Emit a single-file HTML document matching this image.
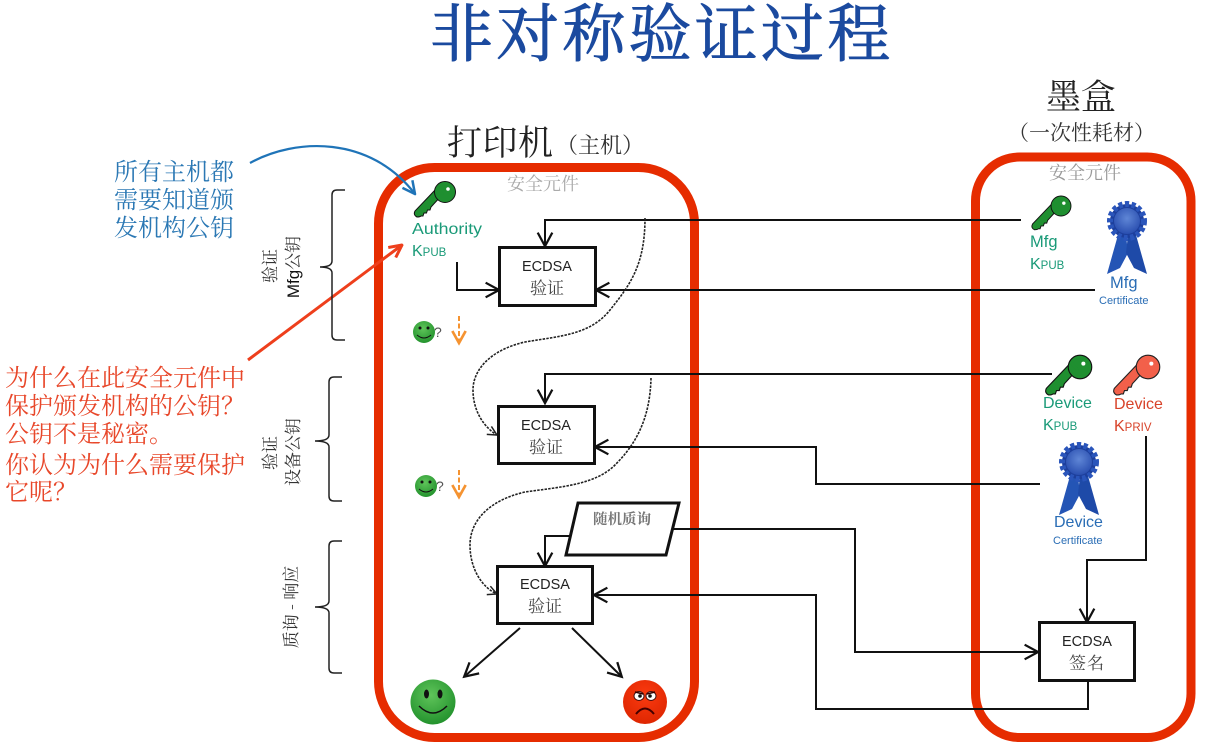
<!DOCTYPE html>
<html><head><meta charset="utf-8"><style>
html,body{margin:0;padding:0;background:#fff;width:1214px;height:754px;overflow:hidden}
svg{display:block}
.s{font-family:"Noto Serif CJK SC","Liberation Serif",serif}
.l{font-family:"Liberation Sans","Noto Sans CJK SC",sans-serif}
</style></head><body>
<svg width="1214" height="754" viewBox="0 0 1214 754" xmlns="http://www.w3.org/2000/svg">
<defs>
<marker id="a" markerUnits="userSpaceOnUse" markerWidth="18" markerHeight="18" refX="13" refY="8" orient="auto" viewBox="0 0 16 16"><path d="M2 1.500L14 8L2 14.500" fill="none" stroke="#111" stroke-width="2"/></marker>
<marker id="d" markerUnits="userSpaceOnUse" markerWidth="11" markerHeight="11" refX="11" refY="6" orient="auto" viewBox="0 0 12 12"><path d="M1 1L11 6L1 11" fill="none" stroke="#222" stroke-width="1.6"/></marker>
<marker id="b" markerUnits="userSpaceOnUse" markerWidth="15" markerHeight="15" refX="11" refY="6" orient="auto" viewBox="0 0 12 12"><path d="M1 1L11 6L1 11" fill="none" stroke="#1f74b8" stroke-width="2"/></marker>
<marker id="r" markerUnits="userSpaceOnUse" markerWidth="15" markerHeight="15" refX="11" refY="6" orient="auto" viewBox="0 0 12 12"><path d="M1 1L11 6L1 11" fill="none" stroke="#ee3f1c" stroke-width="2.4"/></marker>
<marker id="o" markerUnits="userSpaceOnUse" markerWidth="16" markerHeight="16" refX="10" refY="6" orient="auto" viewBox="0 0 12 12"><path d="M1 1L10 6L1 11" fill="none" stroke="#f59331" stroke-width="2"/></marker>
<radialGradient id="gs" cx=".45" cy=".35" r=".7"><stop offset="0" stop-color="#5fc45a"/><stop offset="1" stop-color="#1f8f2a"/></radialGradient>
<radialGradient id="rs" cx=".5" cy=".35" r=".7"><stop offset="0" stop-color="#fb3a10"/><stop offset="1" stop-color="#dc2500"/></radialGradient>
<radialGradient id="rb" cx=".5" cy=".4" r=".6"><stop offset="0" stop-color="#5f86d6"/><stop offset="1" stop-color="#2a4fb0"/></radialGradient>
<path id="kp" d="M-9 -3L-30 19Q-32 23 -28 25Q-25 25 -24 24l2 0l1 -3l2.500 0l1 -3l2.500 0l1 -3L-3 3Z"/>
<g id="key" fill="#1f8f30" stroke="#111" stroke-width="1"><use href="#kp"/><circle r="10.500"/><path d="M-9 -3L-3 3L-1 2L-7 -5Z" stroke="none"/><circle cx="3" cy="-3" r="1.800" fill="#fff" stroke="none"/></g>
<g id="keyr" fill="#f2604a" stroke="#222" stroke-width="1"><use href="#kp"/><circle r="10.500"/><path d="M-9 -3L-3 3L-1 2L-7 -5Z" stroke="none"/><circle cx="3" cy="-3" r="1.800" fill="#fff" stroke="none"/></g>
<g id="rib"><path d="M-9 14L-20 53L-7 47L1 32L-1 14Z" fill="#2455b5"/><path d="M9 14L20 53L7 47L-1 32L1 14Z" fill="#1e4aa8"/><circle r="17" fill="#1d3f9c"/><circle r="17" fill="none" stroke="#2a55bb" stroke-width="6" stroke-dasharray="4 2.500"/><circle r="13" fill="url(#rb)"/></g>
</defs>

<text class="s" x="430" y="56" font-size="63" letter-spacing="3.200" fill="#1b4a9f" stroke="#1b4a9f" stroke-width=".9">非对称验证过程</text>

<text class="s" x="447" y="155" font-size="35" fill="#222" textLength="106">打印机</text>
<text class="s" x="556" y="153" font-size="22" fill="#333">（主机）</text>
<text class="s" x="1046" y="109" font-size="35" fill="#222" textLength="70">墨盒</text>
<text class="s" x="1008" y="140" font-size="21" fill="#333">（一次性耗材）</text>

<rect x="378.500" y="167.500" width="316" height="570" rx="56" fill="none" stroke="#e62c00" stroke-width="9"/>
<rect x="975.500" y="157" width="215.500" height="580.500" rx="44" fill="none" stroke="#e62c00" stroke-width="9"/>

<text class="s" x="507" y="190" font-size="18" fill="#aaa" textLength="72">安全元件</text>
<text class="s" x="1049" y="179" font-size="18" fill="#999" textLength="72">安全元件</text>

<text class="s" font-size="24" fill="#2b78b4"><tspan x="114" y="180">所有主机都</tspan><tspan x="114" y="208">需要知道颁</tspan><tspan x="114" y="236">发机构公钥</tspan></text>
<text class="s" font-size="24" fill="#e8472a"><tspan x="5" y="386">为什么在此安全元件中</tspan><tspan x="5" y="414">保护颁发机构的公钥？</tspan><tspan x="5" y="442">公钥不是秘密。</tspan><tspan x="5" y="473">你认为为什么需要保护</tspan><tspan x="5" y="500">它呢？</tspan></text>

<path d="M250 163C295 138 370 135 415 194" fill="none" stroke="#1f74b8" stroke-width="2.200" marker-end="url(#b)"/>
<path d="M248 360L402 245" fill="none" stroke="#ee3f1c" stroke-width="3" marker-end="url(#r)"/>

<g fill="none" stroke="#222" stroke-width="1.500">
<path d="M345 190H337Q332 190 332 195V261Q332 267 320 267Q332 267 332 273V335Q332 340 337 340H345"/>
<path d="M342 377H334Q329 377 329 382V435Q329 441 315 441Q329 441 329 447V496Q329 501 334 501H342"/>
<path d="M342 541H334Q329 541 329 546V601Q329 607 315 607Q329 607 329 613V668Q329 673 334 673H342"/>
</g>
<g class="s" font-size="17" fill="#333" text-anchor="middle">
<text transform="translate(276,266) rotate(-90)">验证</text>
<text transform="translate(299,267) rotate(-90)"><tspan class="l" fill="#111">Mfg</tspan>公钥</text>
<text transform="translate(276,453) rotate(-90)">验证</text>
<text transform="translate(299,452) rotate(-90)">设备公钥</text>
<text transform="translate(297,607) rotate(-90)">质询 - 响应</text>
</g>

<g fill="none" stroke="#111" stroke-width="2">
<path d="M1021 220H545V245" marker-end="url(#a)"/>
<path d="M1095 290H597" marker-end="url(#a)"/>
<path d="M457 262V290H498" marker-end="url(#a)"/>
<path d="M1052 374H545V402" marker-end="url(#a)"/>
<path d="M1040 484H816V447H596" marker-end="url(#a)"/>
<path d="M1146 436V560H1087V621" marker-end="url(#a)"/>
<path d="M670 529H855V652H1037" marker-end="url(#a)"/>
<path d="M570 536H545V565" marker-end="url(#a)"/>
<path d="M1088 682V709H816V595H595" marker-end="url(#a)"/>
<path d="M520 628L465 676" marker-end="url(#a)"/>
<path d="M572 628L621 676" marker-end="url(#a)"/>
</g>
<g fill="none" stroke="#222" stroke-width="1.600">
<path d="M645 218C645 265 630 285 610 310C590 335 560 336 525 342C490 350 473 370 473 390C473 412 485 428 497 435" stroke-dasharray="2.500 1.200" marker-end="url(#d)"/>
<path d="M651 378C650 420 635 445 615 465C595 485 560 487 525 492C490 500 470 520 470 545C470 570 483 588 497 594" stroke-dasharray="2.500 1.200" marker-end="url(#d)"/>
</g>

<g fill="#fff" stroke="#111" stroke-width="3">
<rect x="499.500" y="247.500" width="96" height="58"/>
<rect x="498.500" y="406.500" width="96" height="57"/>
<rect x="497.500" y="566.500" width="95" height="57"/>
<rect x="1039.500" y="622.500" width="95" height="58"/>
<path d="M578 503H679L666 555H566Z"/>
</g>
<g text-anchor="middle" fill="#222" class="l" font-size="14.500">
<text x="547" y="271">ECDSA</text><text x="546" y="430">ECDSA</text><text x="545" y="589">ECDSA</text><text x="1087" y="646">ECDSA</text>
</g>
<g text-anchor="middle" fill="#444" class="s" font-size="17">
<text x="547" y="294">验证</text><text x="546" y="453">验证</text><text x="545" y="612">验证</text><text x="1087" y="669" letter-spacing="1">签名</text>
<text x="622" y="524" font-size="14.500" font-weight="700" fill="#777">随机质询</text>
</g>

<use href="#key" transform="translate(445,192)"/>
<use href="#key" transform="translate(1061,206)scale(.95)"/>
<use href="#key" transform="translate(1080,367)scale(1.120)"/>
<use href="#keyr" transform="translate(1148,367)scale(1.120)"/>
<use href="#rib" transform="translate(1127,221)"/>
<use href="#rib" transform="translate(1079,462)"/>

<g class="l" fill="#1a9a78" font-size="16">
<text x="412" y="234" textLength="70" lengthAdjust="spacingAndGlyphs">Authority</text>
<text x="412" y="256">K<tspan font-size="11.500">PUB</tspan></text>
<text x="1030" y="247" font-size="16.500">Mfg</text>
<text x="1030" y="269">K<tspan font-size="11.500">PUB</tspan></text>
<text x="1043" y="408">Device</text>
<text x="1043" y="430">K<tspan font-size="11.500">PUB</tspan></text>
</g>
<g class="l" fill="#d8432a" font-size="16">
<text x="1114" y="409">Device</text>
<text x="1114" y="431">K<tspan font-size="11.500">PRIV</tspan></text>
</g>
<g class="l" fill="#2a6db5">
<text x="1110" y="288" font-size="16.500">Mfg</text>
<text x="1099" y="304" font-size="11">Certificate</text>
<text x="1054" y="527" font-size="16">Device</text>
<text x="1053" y="544" font-size="11">Certificate</text>
</g>

<circle cx="424" cy="332" r="11" fill="url(#gs)"/><circle cx="420" cy="328" r="1.500" fill="#111"/><circle cx="428" cy="328" r="1.500" fill="#111"/><path d="M417 335Q424 341 431 335" fill="none" stroke="#111"/>
<text x="434" y="337" class="l" font-size="14" fill="#555">?</text>
<circle cx="426" cy="486" r="11" fill="url(#gs)"/><circle cx="422" cy="482" r="1.500" fill="#111"/><circle cx="430" cy="482" r="1.500" fill="#111"/><path d="M419 489Q426 495 433 489" fill="none" stroke="#111"/>
<text x="436" y="491" class="l" font-size="14" fill="#555">?</text>
<g fill="none" stroke="#f59331" stroke-width="2" stroke-dasharray="5 2.500">
<path d="M459 316V343" marker-end="url(#o)"/>
<path d="M459 470V497" marker-end="url(#o)"/>
</g>

<circle cx="433" cy="702" r="22.500" fill="url(#gs)"/>
<ellipse cx="426.500" cy="694" rx="2.500" ry="4.500" fill="#111"/><ellipse cx="440" cy="694" rx="2.500" ry="4.500" fill="#111"/>
<path d="M419 706Q433 720 447 706" fill="none" stroke="#111" stroke-width="1.500"/>
<circle cx="645" cy="702" r="22" fill="url(#rs)"/>
<ellipse cx="639" cy="696" rx="5" ry="4.500" fill="#fff" stroke="#411"/><ellipse cx="651" cy="696" rx="5" ry="4.500" fill="#fff" stroke="#411"/>
<circle cx="640" cy="696" r="1.800" fill="#111"/><circle cx="650" cy="696" r="1.800" fill="#111"/>
<path d="M635 692L643 694M655 692L647 694" stroke="#300" stroke-width="1.500"/>
<path d="M636 714Q645 703 654 714" fill="none" stroke="#400" stroke-width="2"/>
</svg>
</body></html>
